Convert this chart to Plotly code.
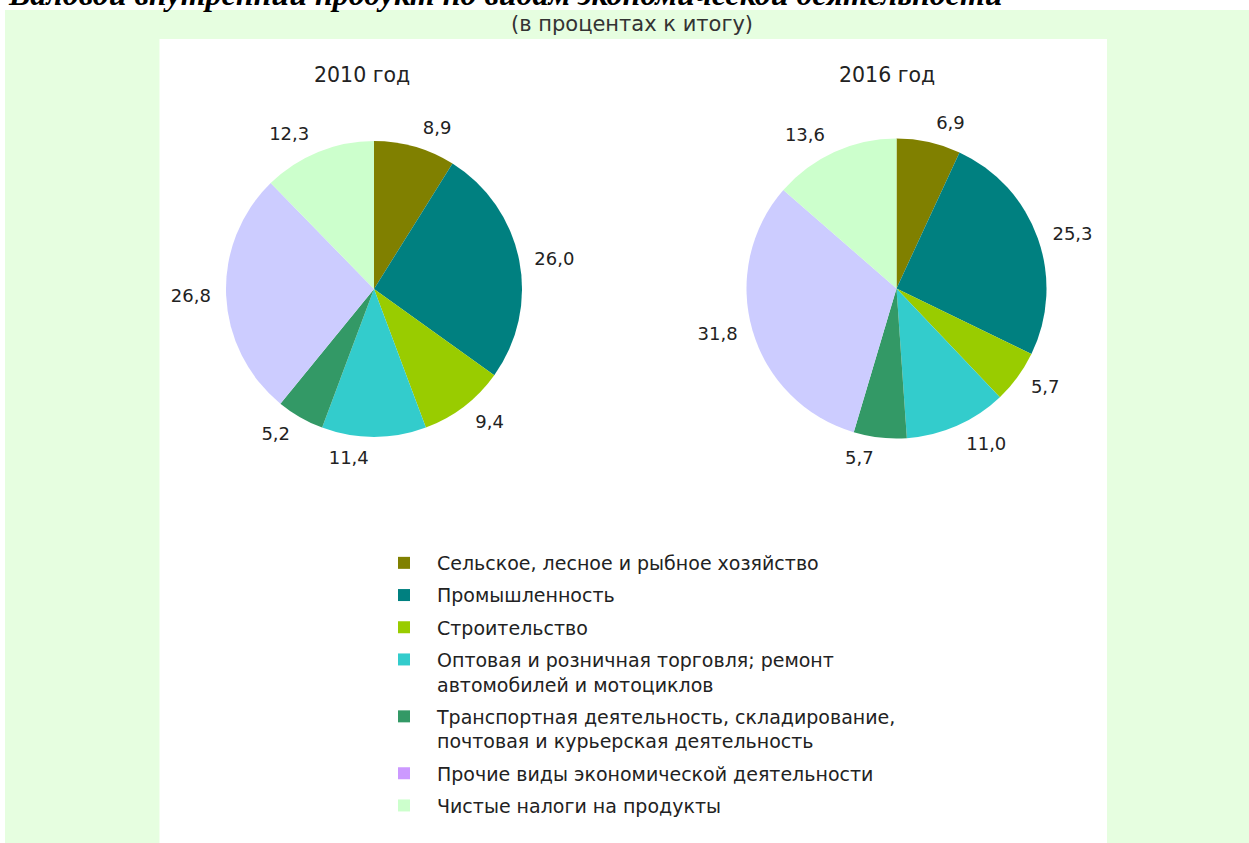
import plotly.graph_objects as go

W, H = 1249, 843

categories = [
    "Сельское, лесное и рыбное хозяйство",
    "Промышленность",
    "Строительство",
    "Оптовая и розничная торговля; ремонт<br>автомобилей и мотоциклов",
    "Транспортная деятельность, складирование,<br>почтовая и курьерская деятельность",
    "Прочие виды экономической деятельности",
    "Чистые налоги на продукты",
]
values_2010 = [8.9, 26.0, 9.4, 11.4, 5.2, 26.8, 12.3]
values_2016 = [6.9, 25.3, 5.7, 11.0, 5.7, 31.8, 13.6]
slice_colors = ["#808000", "#008080", "#99CC00", "#33CCCC", "#339966", "#CCCCFF", "#CCFFCC"]
legend_colors = ["#808000", "#008080", "#99CC00", "#33CCCC", "#339966", "#CC99FF", "#CCFFCC"]

title_text = "Валовой внутренний продукт по видам экономической деятельности"
subtitle_text = "(в процентах к итогу)"
pie_titles = ["2010 год", "2016 год"]

FONT = "DejaVu Sans, Verdana, sans-serif"
SERIF = "Liberation Serif, Times New Roman, serif"


def fmt(v):
    return f"{v:.1f}".replace(".", ",")


def xdom(cx, r):
    return [(cx - r) / W, (cx + r) / W]


def ydom(cy, r):
    return [(H - cy - r) / H, (H - cy + r) / H]


fig = go.Figure()

LABEL_PAD = 10
pies = [
    (values_2010, 374, 289, 148),
    (values_2016, 896.5, 288.5, 150),
]
for vals, cx, cy, r in pies:
    # coloured slices
    fig.add_trace(go.Pie(
        labels=categories,
        values=vals,
        textinfo="none",
        marker=dict(colors=slice_colors, line=dict(width=0)),
        sort=False,
        direction="clockwise",
        rotation=0,
        domain=dict(x=xdom(cx, r), y=ydom(cy, r)),
        showlegend=False,
        hoverinfo="label+value",
    ))
    # value labels, set a little further out from the rim
    fig.add_trace(go.Pie(
        labels=categories,
        values=vals,
        text=[fmt(v) for v in vals],
        textinfo="text",
        textposition="outside",
        outsidetextfont=dict(family=FONT, size=18, color="#222222"),
        marker=dict(colors=["rgba(0,0,0,0)"] * len(vals), line=dict(width=0)),
        sort=False,
        direction="clockwise",
        rotation=0,
        domain=dict(x=xdom(cx, r + LABEL_PAD), y=ydom(cy, r + LABEL_PAD)),
        showlegend=False,
        hoverinfo="skip",
    ))

# legend entries (one per category, vanishingly small pies carrying the legend colours)
for i, (cat, col) in enumerate(zip(categories, legend_colors)):
    fig.add_trace(go.Pie(
        labels=[cat],
        values=[1],
        textinfo="none",
        marker=dict(colors=[col], line=dict(width=0)),
        domain=dict(x=[0.3, 0.300001], y=[0.5, 0.500001]),
        legendgroup=f"g{i}",
        showlegend=True,
        hoverinfo="skip",
    ))

annotations = [
    dict(text=title_text, x=505 / W, y=1 - 14 / H, xref="paper", yref="paper",
         xanchor="center", yanchor="bottom", showarrow=False,
         font=dict(family=SERIF, size=32, color="#000000", weight="bold", style="italic")),
    dict(text=subtitle_text, x=631.5 / W, y=1 - 24 / H, xref="paper", yref="paper",
         xanchor="center", yanchor="middle", showarrow=False,
         font=dict(family=FONT, size=21, color="#333333")),
    dict(text=pie_titles[0], x=362 / W, y=1 - 75 / H, xref="paper", yref="paper",
         xanchor="center", yanchor="middle", showarrow=False,
         font=dict(family=FONT, size=20.5, color="#222222")),
    dict(text=pie_titles[1], x=887 / W, y=1 - 75 / H, xref="paper", yref="paper",
         xanchor="center", yanchor="middle", showarrow=False,
         font=dict(family=FONT, size=20.5, color="#222222")),
]

shapes = [
    dict(type="rect", xref="paper", yref="paper", layer="below",
         x0=5 / W, x1=1, y0=0, y1=1 - 10 / H,
         fillcolor="#E6FEE0", line=dict(width=0)),
    dict(type="rect", xref="paper", yref="paper", layer="below",
         x0=159.5 / W, x1=1107 / W, y0=0, y1=1 - 39 / H,
         fillcolor="#FFFFFF", line=dict(width=0)),
]

fig.update_layout(
    width=W, height=H,
    margin=dict(l=0, r=0, t=0, b=0),
    paper_bgcolor="#FFFFFF",
    plot_bgcolor="#FFFFFF",
    font=dict(family=FONT, color="#222222"),
    annotations=annotations,
    shapes=shapes,
    legend=dict(
        x=371 / W, y=1 - 544 / H, xanchor="left", yanchor="top",
        bgcolor="rgba(0,0,0,0)", borderwidth=0,
        font=dict(family=FONT, size=19, color="#222222"),
        itemwidth=56, traceorder="grouped", tracegroupgap=4.5, valign="top",
    ),
)

fig.write_html(
    "out.html",
    config={"displayModeBar": False},
    post_script="document.body.style.margin='0px';",
)
